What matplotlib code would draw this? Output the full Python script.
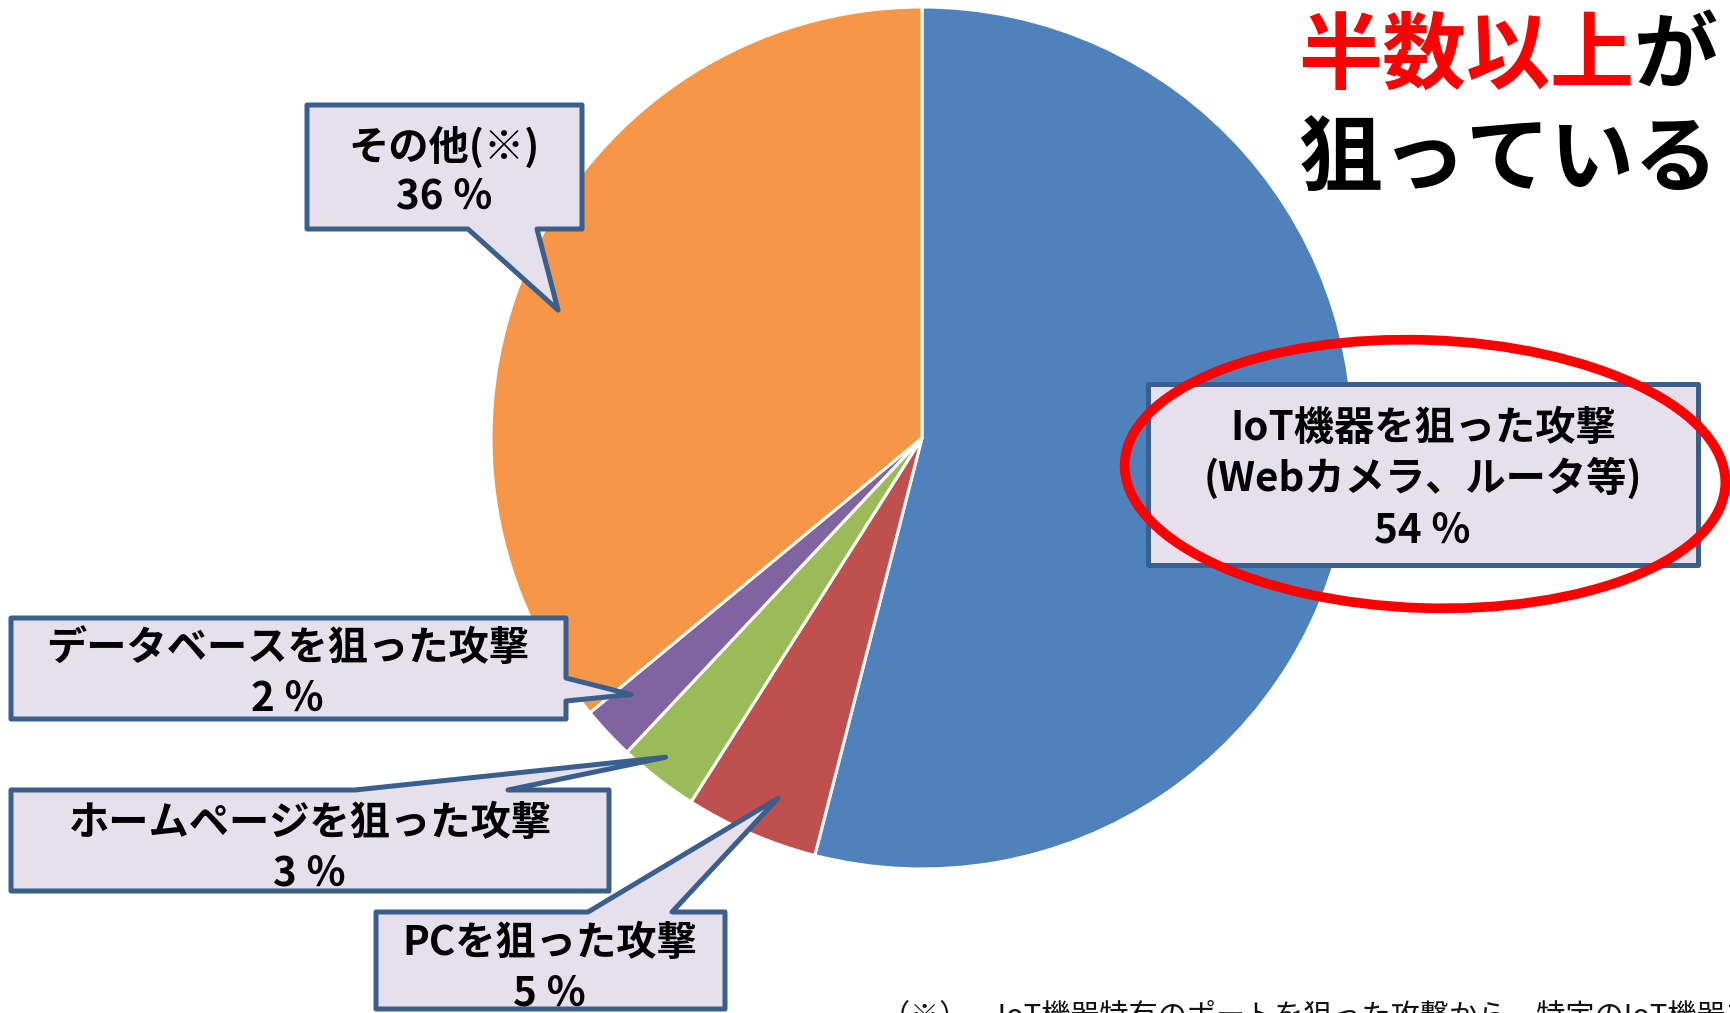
import numpy as np
import matplotlib
matplotlib.use("Agg")
import matplotlib.pyplot as plt
from matplotlib.patches import Polygon, Ellipse

plt.rcParams['font.family'] = ['Noto Sans CJK JP', 'DejaVu Sans']

# ---- data ----
categories = ["IoT機器を狙った攻撃", "PCを狙った攻撃", "ホームページを狙った攻撃",
              "データベースを狙った攻撃", "その他(※)"]
sublabels = ["(Webカメラ、ルータ等)", "", "", "", ""]
values = [54, 5, 3, 2, 36]
pct_labels = ["54 ％", "5 ％", "3 ％", "2 ％", "36 ％"]
colors = ["#4F81BD", "#C0504D", "#9BBB59", "#8064A2", "#F79646"]

title_red = "半数以上"
title_black1 = "がＩｏＴ機器を"
title_line2 = "狙っている"
footnote = "（※）　IoT機器特有のポートを狙った攻撃から、特定のIoT機器を狙った攻撃を除いたもの"

W, H = 1731, 1013
fig = plt.figure(figsize=(W / 100, H / 100), dpi=100)
ax = fig.add_axes([0, 0, 1, 1])

def P(x, y):
    """pixel coords (y down) -> data coords (y up)"""
    return (x, H - y)

CX, CY = P(922, 438)
R = 431
wedges, _ = ax.pie(values, colors=colors, startangle=90, counterclock=False,
                   center=(CX, CY), radius=R,
                   wedgeprops=dict(edgecolor='white', linewidth=2.2))
ax.set_xlim(0, W)
ax.set_ylim(0, H)
ax.set_aspect('equal')
ax.axis('off')

def tip_of(idx, frac, rfrac):
    w = wedges[idx]
    a = np.deg2rad(w.theta2 - frac * (w.theta2 - w.theta1))
    return (CX + rfrac * R * np.cos(a), CY + rfrac * R * np.sin(a))

EDGE = "#3B5F8C"
FILL = "#E5E0EC"

def callout(box, side=None, base=None, tip=None):
    x0, y0, x1, y1 = box  # pixel coords
    pts = [P(x0, y0)]
    if side == 'top':
        pts += [P(base[0], y0), tip, P(base[1], y0)]
    pts.append(P(x1, y0))
    if side == 'right':
        pts += [P(x1, base[0]), tip, P(x1, base[1])]
    pts.append(P(x1, y1))
    if side == 'bottom':
        pts += [P(base[1], y1), tip, P(base[0], y1)]
    pts.append(P(x0, y1))
    poly = Polygon(pts, closed=True, facecolor=FILL, edgecolor=EDGE,
                   linewidth=3.6, joinstyle='round', zorder=3)
    ax.add_patch(poly)

FS = 29
def lines(xc, baselines, texts):
    for yb, t in zip(baselines, texts):
        if t:
            ax.text(*P(xc, yb), t, ha='center', va='baseline', fontsize=FS,
                    fontweight='bold', color='black', zorder=5)

# IoT box (no pointer)
callout((1148, 384, 1698, 565))
lines(1423, [440, 491, 542], [categories[0], sublabels[0], pct_labels[0]])

# PC
callout((376, 912, 725, 1009), 'top', (588, 672), tip_of(1, 0.41, 0.90))
lines(550, [955, 1005], [categories[1], pct_labels[1]])

# Homepage
callout((11, 790, 609, 891), 'top', (355, 508), tip_of(2, 0.59, 0.95))
lines(310, [835, 885], [categories[2], pct_labels[2]])

# Database
callout((11, 618, 566, 719), 'right', (678, 701), tip_of(3, 0.75, 0.90))
lines(288, [660, 711], [categories[3], pct_labels[3]])

# Other
callout((307, 105, 582, 229), 'bottom', (468, 537), tip_of(4, 0.455, 0.895))
lines(444, [160, 208], [categories[4], pct_labels[4]])

# Red ellipse highlight
ax.add_patch(Ellipse(P(1425, 474), 601, 268, angle=-2, fill=False,
                     edgecolor='#FF0000', linewidth=7, zorder=6))

# Title (partially cut off at right edge, as in the source)
TFS = 60.5
ax.text(*P(1298, 82), title_red, ha='left', va='baseline', fontsize=TFS,
        fontweight='bold', color='#FF0000', zorder=7)
ax.text(*P(1298 + 4 * 84, 82), title_black1, ha='left', va='baseline',
        fontsize=TFS, fontweight='bold', color='black', zorder=7)
ax.text(*P(1298, 186), title_line2, ha='left', va='baseline', fontsize=TFS,
        fontweight='bold', color='black', zorder=7)

# Footnote (cut off at bottom, as in the source)
ax.text(*P(881, 1024), footnote, ha='left', va='baseline', fontsize=21,
        color='#111111', zorder=7)

fig.savefig("out.png", dpi=100)
